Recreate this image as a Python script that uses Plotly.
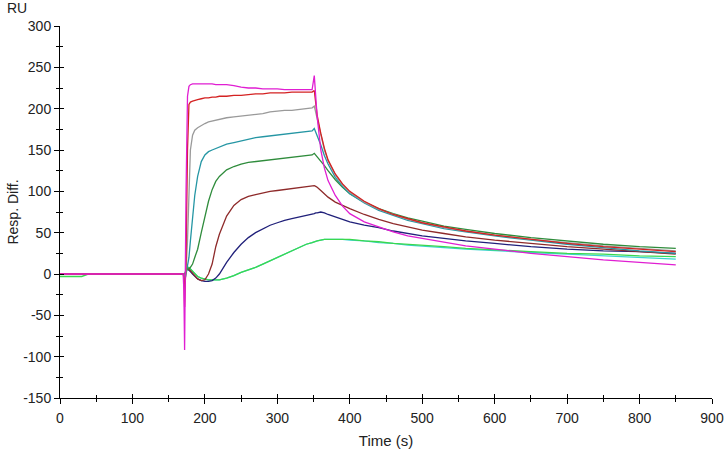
import plotly.graph_objects as go

# Time grid (s)
time_s = [0, 30, 40, 100, 168, 170, 171, 172, 174, 176, 178, 180, 183, 186, 190, 195, 200, 205, 210, 215,
          220, 230, 240, 250, 260, 270, 280, 290, 300, 310, 320, 330, 340, 348, 351, 353, 355, 360, 365, 370,
          380, 390, 400, 420, 440, 460, 480, 500, 530, 560, 600, 650, 700, 750, 800, 850]

# Response (RU) per concentration
cyan = [0, 0, 0, 0, 0, 0, 0, -2, 6, 8, 8, 6, 3, 0, -3, -5, -6, -7, -7, -7,
        -7, -5, -2, 2, 5, 8, 12, 16, 20, 24, 28, 32, 36, 38, 39, 39, 40, 41, 42, 42,
        42, 42, 41, 40, 38, 37, 35, 34, 32, 30, 28, 26, 24, 22, 20, 18]
lime = [-3, -3, 0, 0, 0, 0, 0, -2, 6, 8, 8, 6, 3, 0, -3, -5, -6, -7, -7, -7,
        -7, -5, -2, 2, 5, 8, 12, 16, 20, 24, 28, 32, 36, 38, 39, 40, 40, 41, 42, 42,
        42, 42, 42, 40, 39, 37, 36, 35, 33, 31, 29, 27, 25, 24, 22, 21]
navy = [0, 0, 0, 0, 0, 0, 0, -3, 4, 6, 5, 3, 0, -3, -6, -8, -9, -9, -8, -5,
        0, 14, 26, 36, 44, 50, 55, 59, 62, 65, 67, 69, 71, 72, 73, 74, 74, 75, 74, 72,
        69, 66, 63, 59, 56, 52, 49, 46, 43, 40, 37, 33, 30, 28, 27, 25]
brown = [0, 0, 0, 0, 0, 0, 0, -3, 5, 7, 6, 4, 1, -2, -6, -8, -7, 0, 12, 33,
         48, 70, 83, 90, 94, 96, 98, 100, 101, 102, 103, 104, 105, 106, 107, 106, 105, 101, 97, 93,
         87, 83, 79, 72, 66, 61, 57, 53, 49, 45, 41, 37, 33, 30, 27, 24]
green = [0, 0, 0, 0, 0, 0, 0, -5, 3, 6, 6, 8, 12, 20, 30, 50, 70, 88, 102, 112,
         118, 126, 130, 133, 135, 136, 137, 138, 139, 140, 141, 142, 143, 144, 146, 144, 142, 137, 131, 125,
         114, 105, 97, 87, 79, 73, 68, 64, 58, 54, 49, 44, 40, 36, 33, 31]
teal = [0, 0, 0, 0, 0, 0, 0, -10, 2, 8, 20, 40, 70, 95, 118, 136, 144, 148, 150, 152,
        154, 157, 159, 161, 163, 165, 166, 167, 168, 169, 170, 171, 172, 173, 176, 172, 168, 156, 143, 133,
        117, 106, 97, 86, 77, 71, 65, 61, 55, 51, 46, 41, 36, 32, 28, 25]
gray = [0, 0, 0, 0, 0, 0, 0, -15, 5, 40, 110, 150, 168, 174, 177, 180, 182, 184, 185, 186,
        187, 189, 190, 191, 192, 193, 194, 196, 197, 198, 198, 199, 200, 201, 203, 195, 186, 166, 150, 137,
        120, 108, 99, 87, 78, 72, 66, 62, 56, 52, 47, 42, 38, 34, 31, 28]
red = [0, 0, 0, 0, 0, 0, -5, -40, 20, 150, 205, 208, 209, 210, 211, 212, 213, 213, 214, 214,
       215, 215, 216, 216, 217, 218, 218, 219, 219, 219, 220, 220, 220, 220, 222, 205, 192, 170, 152, 138,
       121, 109, 100, 88, 79, 72, 67, 62, 57, 52, 47, 42, 37, 33, 30, 27]
magenta = [0, 0, 0, 0, 0, 0, -20, -92, 100, 215, 227, 229, 230, 230, 230, 230, 230, 230, 230, 229,
           229, 229, 228, 226, 225, 225, 224, 224, 224, 223, 223, 223, 223, 223, 240, 215, 190, 150, 128, 113,
           95, 82, 73, 63, 57, 51, 46, 43, 38, 34, 30, 25, 21, 17, 14, 11]

series = [
    ("cyan", cyan, "#3cd2d2"),
    ("lime", lime, "#3ad84e"),
    ("navy", navy, "#20207a"),
    ("brown", brown, "#8e2a2a"),
    ("green", green, "#2f8c3c"),
    ("teal", teal, "#2596a4"),
    ("gray", gray, "#9a9a9a"),
    ("red", red, "#d42222"),
    ("magenta", magenta, "#e01ed2"),
]

x_ticks = [0, 100, 200, 300, 400, 500, 600, 700, 800, 900]
y_ticks = [-150, -100, -50, 0, 50, 100, 150, 200, 250, 300]
y_tick_text = [str(v) for v in y_ticks]

fig = go.Figure()
for name, vals, col in series:
    fig.add_trace(go.Scatter(x=time_s, y=vals, mode="lines", name=name,
                             line=dict(color=col, width=1.3), showlegend=False,
                             hoverinfo="skip"))

# empty trace on overlay axes (used for inner half of crossing ticks)
fig.add_trace(go.Scatter(x=[], y=[], xaxis="x2", yaxis="y2", showlegend=False, hoverinfo="skip"))

font = "Liberation Sans, Arial, Helvetica, sans-serif"
axis_common = dict(showgrid=False, zeroline=False, linecolor="black", linewidth=1, automargin=False,
                   tickcolor="black", tickfont=dict(family=font, size=14, color="#222"))

fig.update_layout(
    width=726, height=450,
    margin=dict(l=60, r=14, t=26, b=52),
    paper_bgcolor="white", plot_bgcolor="white",
    font=dict(family=font, size=14, color="#222"),
    xaxis=dict(range=[0, 900], tickvals=x_ticks, ticks="outside", ticklen=5, showline=True,
               ticklabelstandoff=2,
               minor=dict(dtick=50, ticks="outside", ticklen=3, tickcolor="black"),
               title=dict(text="Time (s)", font=dict(family=font, size=15), standoff=10),
               **axis_common),
    yaxis=dict(range=[-150, 300], tickvals=y_ticks, ticktext=y_tick_text, ticks="outside", ticklen=5,
               showline=True,
               minor=dict(dtick=25, ticks="outside", ticklen=3, tickcolor="black"),
               title=dict(text="Resp. Diff.", font=dict(family=font, size=14), standoff=1),
               **axis_common),
    xaxis2=dict(range=[0, 900], overlaying="x", anchor="y2", side="bottom", tickvals=x_ticks,
                ticks="inside", ticklen=4, tickcolor="black", showticklabels=False, automargin=False,
                showgrid=False, zeroline=False, showline=False,
                minor=dict(dtick=50, ticks="inside", ticklen=3, tickcolor="black")),
    yaxis2=dict(range=[-150, 300], overlaying="y", anchor="x2", side="left", tickvals=y_ticks,
                ticks="inside", ticklen=4, tickcolor="black", showticklabels=False, automargin=False,
                showgrid=False, zeroline=False, showline=False,
                minor=dict(dtick=25, ticks="inside", ticklen=3, tickcolor="black")),
    annotations=[dict(text="RU", xref="paper", yref="paper", x=-0.085, y=1.0, yshift=18,
                      xanchor="left", yanchor="middle", showarrow=False,
                      font=dict(family=font, size=14, color="#222"))],
)

fig.write_html("out.html", config={"displayModeBar": False},
               post_script="document.body.style.margin='0';")
